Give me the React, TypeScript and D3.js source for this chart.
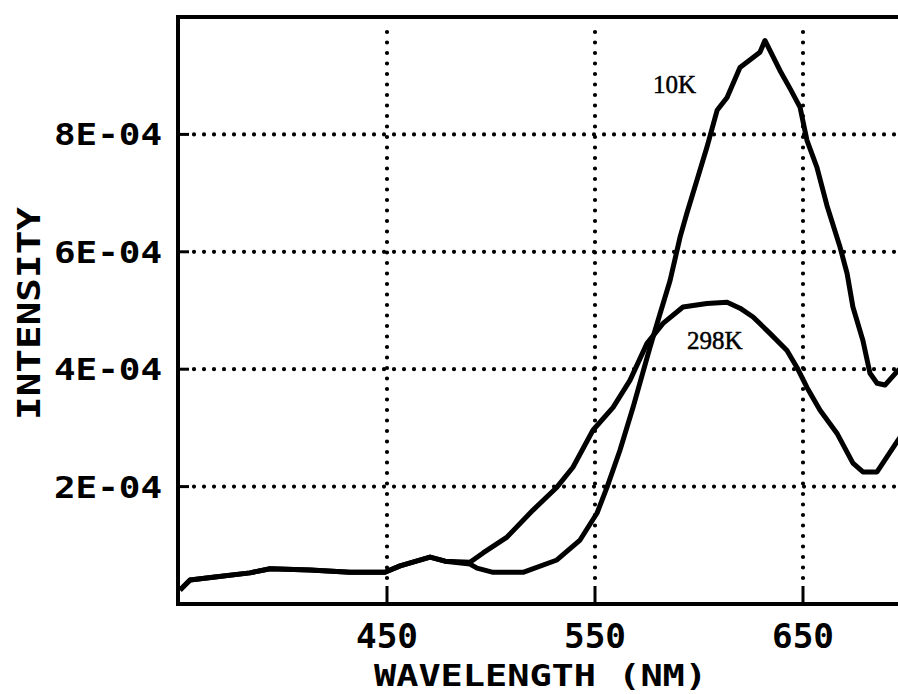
import React from 'react';
import * as d3 from 'd3';

// emission spectra (wavelength nm, intensity)
const wl10K = [350.5, 355.3, 367.3, 384.1, 393.8, 413, 432.2, 449, 456.3, 470.7, 477.9, 489.9, 493.3, 501, 515.4, 531.7, 542.8, 551, 555.8, 562, 568.3, 576.4, 581.3, 586.1, 590.9, 594.2, 599, 603.8, 608.7, 613.5, 619.7, 626, 629.3, 631.7, 634.1, 638.9, 643.8, 648.6, 651.9, 656.7, 661.5, 667.8, 671.2, 674, 678.8, 682.2, 685.6, 689.4, 695.7, 700];
const int10K = [0.24, 0.41, 0.46, 0.53, 0.6, 0.58, 0.54, 0.54, 0.65, 0.8, 0.73, 0.68, 0.61, 0.54, 0.54, 0.75, 1.09, 1.55, 1.99, 2.62, 3.35, 4.37, 4.95, 5.51, 6.25, 6.66, 7.22, 7.78, 8.41, 8.63, 9.14, 9.31, 9.4, 9.6, 9.43, 9.09, 8.78, 8.46, 7.9, 7.44, 6.79, 6.08, 5.63, 5.06, 4.49, 3.93, 3.76, 3.73, 3.98, 4.1].map(v => v * 1e-4);

const wl298K = [350.5, 355.3, 367.3, 384.1, 393.8, 413, 432.2, 449, 456.3, 470.7, 477.9, 489.9, 496.2, 507.7, 520.2, 531.7, 539.4, 549, 558.7, 566.8, 575, 582.7, 592.3, 603.8, 613.5, 619.7, 626, 634.1, 642.3, 647.1, 651.9, 658.2, 666.3, 674, 678.8, 685.6, 695.7, 700];
const int298K = [0.24, 0.41, 0.46, 0.53, 0.6, 0.58, 0.54, 0.54, 0.65, 0.8, 0.73, 0.71, 0.87, 1.14, 1.6, 1.99, 2.33, 2.96, 3.35, 3.81, 4.44, 4.78, 5.06, 5.12, 5.14, 5.04, 4.89, 4.61, 4.32, 4.03, 3.69, 3.3, 2.91, 2.4, 2.25, 2.25, 2.79, 3.0].map(v => v * 1e-4);

const xTicks = [450, 550, 650];
const yTicks = [2e-4, 4e-4, 6e-4, 8e-4];
const yTickLabels = ['2E-04', '4E-04', '6E-04', '8E-04'];

const W = 898, H = 694;
const left = 178, top = 17, bottom = 604;

export default function App() {
  const x = d3.scaleLinear().domain([350, 750]).range([179, 179 + 2.08 * 400]);
  const y = d3.scaleLinear().domain([0, 1e-3]).range([bottom, top]);

  const line = d3.line<[number, number]>()
    .x(d => x(d[0]))
    .y(d => y(d[1]));

  const s10 = wl10K.map((w, i) => [w, int10K[i]] as [number, number]);
  const s298 = wl298K.map((w, i) => [w, int298K[i]] as [number, number]);

  const mono = "'DejaVu Sans Mono', monospace";

  return (
    <svg width={W} height={H} style={{ position: 'absolute', left: 0, top: 0, background: '#fff' }}>
      <defs>
        <clipPath id="plot">
          <rect x={left} y={top} width={W - left} height={bottom - top} />
        </clipPath>
      </defs>

      {/* dotted grid */}
      {yTicks.map(t => (
        <g key={'y' + t}>
          <line x1={left} x2={189} y1={y(t)} y2={y(t)} stroke="#000" strokeWidth={3} />
          <line x1={194} x2={W} y1={y(t)} y2={y(t)} stroke="#000" strokeWidth={4.2}
            strokeDasharray="0 10" strokeLinecap="round" />
        </g>
      ))}
      {xTicks.map(t => (
        <g key={'x' + t}>
          <line x1={x(t)} x2={x(t)} y1={bottom} y2={586} stroke="#000" strokeWidth={3} />
          <line x1={x(t)} x2={x(t)} y1={578} y2={top + 8} stroke="#000" strokeWidth={4.2}
            strokeDasharray="0 10.5" strokeLinecap="round" />
        </g>
      ))}

      {/* frame */}
      <path d={`M${W},${top}H${left}V${bottom}H${W}`} fill="none" stroke="#000" strokeWidth={4} />

      <g clipPath="url(#plot)" fill="none" stroke="#000" strokeWidth={5} strokeLinejoin="round">
        <path d={line(s298) || ''} />
        <path d={line(s10) || ''} />
      </g>

      {/* tick labels */}
      <g fontFamily={mono} fontWeight="bold" fill="#000">
        {yTicks.map((t, i) => (
          <text key={t} x={54} y={y(t) + 11} fontSize={30} textLength={108} lengthAdjust="spacingAndGlyphs">
            {yTickLabels[i]}
          </text>
        ))}
        {xTicks.map(t => (
          <text key={t} x={x(t)} y={648} fontSize={33} textAnchor="middle" textLength={62} lengthAdjust="spacingAndGlyphs">
            {t}
          </text>
        ))}
        <text x={374} y={686} fontSize={30} textLength={333} lengthAdjust="spacingAndGlyphs">WAVELENGTH (NM)</text>
        <text transform="translate(40,420) rotate(-90)" x={0} y={0} fontSize={32} textLength={213} lengthAdjust="spacingAndGlyphs">INTENSITY</text>
      </g>

      <g fontFamily="'Liberation Serif', serif" fontSize={25} fill="#000" stroke="#000" strokeWidth={0.5}>
        <text x={653} y={93}>10K</text>
        <text x={687} y={349}>298K</text>
      </g>
    </svg>
  );
}
